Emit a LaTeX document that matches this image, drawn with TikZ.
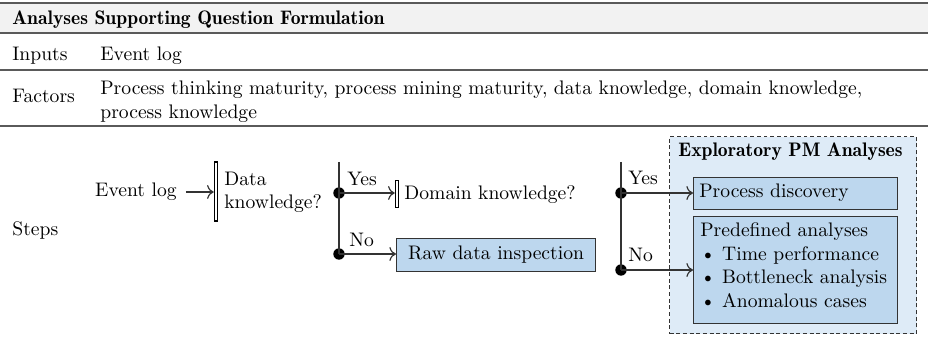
\documentclass[tikz,border=0pt]{standalone}
\usetikzlibrary{arrows.meta}
\definecolor{rulegray}{HTML}{5A5A5A}
\definecolor{hdrfill}{HTML}{F2F2F2}
\definecolor{boxfill}{HTML}{BDD7EE}
\definecolor{grpfill}{HTML}{DEEBF7}
\definecolor{linegray}{HTML}{333333}
\newcommand\hdfont{\fontseries{b}\selectfont}
\tikzset{
  txt/.style={inner sep=0pt, anchor=base west},
  blocktxt/.style={inner sep=0pt, anchor=north west, align=left},
  tabrule/.style={draw=rulegray, line width=1pt},
  flow/.style={draw=linegray, line width=0.6pt},
  arr/.style={flow, -{Computer Modern Rightarrow[scale=1.15]}},
  barnode/.style={draw=black, fill=white, line width=0.65pt, minimum width=1.7pt, inner sep=0pt},
  dot/.style={circle, fill=black, inner sep=0pt, minimum size=5.8pt},
  stepbox/.style={draw=linegray, fill=boxfill, line width=0.6pt, inner sep=0pt, anchor=north west},
  grpbox/.style={draw=linegray, fill=grpfill, dashed, dash pattern=on 2pt off 1.4pt, line width=0.6pt, inner sep=0pt, anchor=north west},
}
\begin{document}
\begin{tikzpicture}[x=0.51pt, y=-0.51pt]
\useasboundingbox (0,0) rectangle (928,339);
% table
\fill[hdrfill] (0,3) rectangle (928,33);
\draw[tabrule] (0,3) -- (928,3);
\draw[tabrule] (0,33) -- (928,33);
\draw[tabrule] (0,70) -- (928,70);
\draw[tabrule] (0,126) -- (928,126);
\node[txt] (hdr) at (12,25) {\hdfont Analyses Supporting Question Formulation};
\node[txt] (inlab) at (12,61) {Inputs};
\node[txt] (inval) at (100,61) {Event log};
\node[txt] (faclab) at (12,103) {Factors};
\node[blocktxt] (facval) at (100,80.5) {Process thinking maturity, process mining maturity, data knowledge, domain knowledge,\\process knowledge};
\node[txt] (steplab) at (12,236) {Steps};
% flow
\node[inner xsep=4.5pt, inner ysep=0pt, anchor=west] (evlog) at (86,192) {Event log};
\node[barnode, minimum height=30pt] (bar1) at (216,191.5) {};
\draw[arr] (evlog.east) -- (evlog.east -| bar1.west);
\node[blocktxt] (dk) at (224,171.5) {Data\\knowledge?};
\coordinate (v1top) at (339,162);
\node[dot] (y1) at (339,193) {};
\node[dot] (n1) at (339,254) {};
\draw[flow] (v1top) -- (n1.center);
\node[txt] (yes1) at (347,186) {Yes};
\node[txt] (no1) at (349,247) {No};
\node[barnode, minimum height=14pt] (bar2) at (397,194) {};
\draw[arr] (y1.center) -- (y1.center -| bar2.west);
\node[txt] (domk) at (404,200) {Domain knowledge?};
\node[stepbox, minimum width=101.5pt, minimum height=16.8pt] (raw) at (396,238) {Raw data inspection};
\draw[arr] (n1.center) -- (n1.center -| raw.west);
% second branch
\coordinate (v2top) at (621,162);
\node[dot] (y2) at (621,193) {};
\node[dot] (n2) at (621,270) {};
\draw[flow] (v2top) -- (n2.center);
\node[txt] (yes2) at (628,185) {Yes};
\node[txt] (no2) at (628,262) {No};
% group
\node[grpbox, minimum width=126pt, minimum height=100.5pt] (grp) at (669,136) {};
\node[txt] (grptitle) at (678,157) {\hdfont Exploratory PM Analyses};
\node[stepbox, minimum width=104pt, minimum height=16.3pt] (pd) at (693,177) {};
\node[txt] (pdtxt) at (699,198) {Process discovery};
\node[stepbox, minimum width=104pt, minimum height=54.6pt] (predef) at (693,216) {};
\node[blocktxt] (predeftxt) at (700,222.5) {Predefined analyses\\\textbullet{} Time performance\\\textbullet{} Bottleneck analysis\\\textbullet{} Anomalous cases};
\draw[arr] (y2.center) -- (y2.center -| pd.west);
\draw[arr] (n2.center) -- (n2.center -| predef.west);
\end{tikzpicture}
\end{document}
